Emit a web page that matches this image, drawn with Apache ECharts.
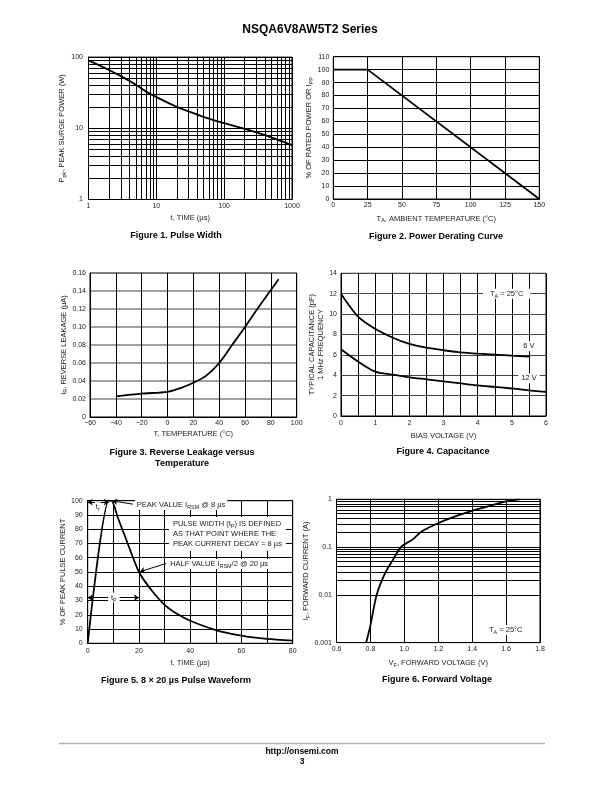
<!DOCTYPE html>
<html>
<head>
<meta charset="utf-8">
<script src="https://cdn.jsdelivr.net/npm/echarts@6/dist/echarts.min.js"></script>
<style>
html,body{margin:0;padding:0;background:#fff;}
#chart{width:612px;height:792px;}
</style>
</head>
<body>
<div id="chart"></div>
<script>
// ---------------- Data ----------------
// Figure 1. Pulse Width (log-log)
const fig1Time  = [1, 2, 3, 5, 7, 10, 20, 40, 70, 100, 200, 400, 700, 1000];
const fig1Power = [90, 66, 54, 41, 33, 27.5, 20, 15.6, 13, 11.8, 9.8, 8.0, 6.6, 5.8];
// Figure 2. Power Derating Curve
const fig2Temp  = [0, 25, 150];
const fig2Rated = [100, 100, 0];
// Figure 3. Reverse Leakage versus Temperature
const fig3Temp = [-40, -20, 0, 10, 20, 30, 40, 50, 60, 70, 80, 86];
const fig3Leak = [0.023, 0.026, 0.028, 0.032, 0.038, 0.046, 0.06, 0.08, 0.10, 0.121, 0.141, 0.153];
// Figure 4. Capacitance
const fig4Bias6V  = [0, 0.5, 1, 1.5, 2, 2.5, 3, 3.5, 4, 4.5, 5, 5.5];
const fig4Cap6V   = [12.0, 9.75, 8.55, 7.7, 7.07, 6.7, 6.45, 6.25, 6.12, 6.02, 5.92, 5.83];
const fig4Bias12V = [0, 0.5, 1, 1.5, 2, 2.5, 3, 3.5, 4, 4.5, 5, 5.5, 6];
const fig4Cap12V  = [6.55, 5.34, 4.35, 4.06, 3.8, 3.6, 3.4, 3.2, 3.0, 2.85, 2.7, 2.52, 2.36];
// Figure 5. 8 x 20 us Pulse Waveform
const fig5Time = [0, 8.2, 9.2, 12, 15, 20, 25, 30, 35, 40, 50, 60, 70, 80];
const fig5Pct  = [0, 100, 100, 87, 73, 50, 37, 27, 20.5, 15.8, 9.3, 5.4, 3.1, 1.9];
// Figure 6. Forward Voltage
const fig6Volt = [0.775, 0.80, 0.837, 0.886, 0.93, 0.98, 1.05, 1.1, 1.2, 1.3, 1.4, 1.5, 1.6, 1.68];
const fig6Curr = [0.001, 0.0023, 0.01, 0.028, 0.052, 0.1, 0.145, 0.21, 0.317, 0.44, 0.574, 0.72, 0.90, 1.0];

// Texts
const pageTitle = 'NSQA6V8AW5T2 Series';
const captionTexts = ['Figure 1. Pulse Width', 'Figure 2. Power Derating Curve',
  'Figure 3. Reverse Leakage versus', 'Temperature', 'Figure 4. Capacitance',
  'Figure 5. 8 \u00d7 20 \u00b5s Pulse Waveform', 'Figure 6. Forward Voltage'];
const footerTexts = ['http://onsemi.com', '3'];

// ---------------- Helpers ----------------
const FONT = '"Liberation Sans", Arial, Helvetica, sans-serif';
const TXT = '#1a1a1a';
const RICH = {
  n: {fontFamily: FONT, fontSize: 7.5, color: TXT, lineHeight: 10},
  m: {fontFamily: FONT, fontSize: 7.5, color: TXT, lineHeight: 9.5},
  s: {fontFamily: FONT, fontSize: 5.4, color: TXT, verticalAlign: 'bottom'}
};
function merge(a, b) {
  const o = Array.isArray(a) ? a.slice() : Object.assign({}, a);
  for (const k in b) {
    if (b[k] && typeof b[k] === 'object' && !Array.isArray(b[k]) && a[k] && typeof a[k] === 'object' && !Array.isArray(a[k])) o[k] = merge(a[k], b[k]);
    else o[k] = b[k];
  }
  return o;
}
const zip = (xs, ys) => xs.map((x, i) => [x, ys[i]]);
const minorLog = (lo, hi) => { const out = []; for (let d = lo; d < hi * 0.999; d *= 10) for (let k = 2; k <= 9; k++) out.push(Number((k * d).toPrecision(2))); return out; };

const axisBase = {
  nameLocation: 'middle',
  nameTextStyle: {fontFamily: FONT, fontSize: 7.5, color: TXT, rich: RICH},
  axisLine: {show: true, onZero: false, lineStyle: {color: '#000', width: 1}},
  axisTick: {show: false},
  axisLabel: {fontFamily: FONT, fontSize: 7, color: TXT},
  splitLine: {show: true, lineStyle: {color: '#000', width: 1}}
};
const X = o => merge(axisBase, o);
const Y = o => merge(axisBase, merge({nameRotate: 90}, o));
const minorBlack = {minorTick: {show: false, splitNumber: 2}, minorSplitLine: {show: true, lineStyle: {color: '#000', width: 1}}};

const gridBase = {show: true, borderColor: '#000', borderWidth: 1, containLabel: false};
const grids = [
  {left: 88.5, top: 57.1, width: 203.5, height: 142.4},
  {left: 333.3, top: 56.7, width: 206, height: 142.3},
  {left: 90, top: 273, width: 206.7, height: 144},
  {left: 341, top: 273.3, width: 205, height: 142.7},
  {left: 87.7, top: 500.7, width: 205, height: 142.6},
  {left: 336.5, top: 499.3, width: 203.5, height: 143.3}
].map(g => Object.assign({}, gridBase, g));

const curve = (idx, data, extra) => merge({
  type: 'line', xAxisIndex: idx, yAxisIndex: idx, data: data, showSymbol: false, symbol: 'none',
  lineStyle: {color: '#000', width: 1.8}, z: 4, silent: true, animation: false
}, extra || {});

const gridLines = (idx, items) => ({
  type: 'line', xAxisIndex: idx, yAxisIndex: idx, data: [], z: 3, silent: true, animation: false,
  markLine: {silent: true, symbol: 'none', animation: false, z: 3, label: {show: false},
    lineStyle: {color: '#000', width: 1, type: 'solid'}, emphasis: {disabled: true}, data: items}
});

function note(coord, text, labelOpts) {
  return {coord: coord, symbol: 'circle', symbolSize: 1, itemStyle: {color: 'rgba(0,0,0,0)'},
    label: merge({show: true, position: 'inside', formatter: text, fontFamily: FONT, fontSize: 7.5,
      color: TXT, backgroundColor: '#fff', padding: [1, 2], rich: RICH}, labelOpts || {})};
}
const notes = (idx, items, lines) => ({
  type: 'line', xAxisIndex: idx, yAxisIndex: idx, data: [], z: 10, silent: true, animation: false,
  markPoint: {silent: true, animation: false, z: 10, data: items},
  markLine: lines ? {silent: true, animation: false, z: 9, symbol: 'none', symbolSize: 5,
    label: {show: false}, lineStyle: {color: '#000', width: 1, type: 'solid'}, emphasis: {disabled: true}, data: lines} : undefined
});
const arrow = (a, b, both) => [{coord: a, symbol: both ? 'arrow' : 'none'}, {coord: b, symbol: 'arrow'}];

// ---------------- Axes ----------------
const logLabel = v => (v >= 1 ? String(v) : String(Number(v.toPrecision(1))));
const xAxes = [
  X({gridIndex: 0, type: 'log', logBase: 10, min: 1, max: 1000, name: 't, TIME (\u00b5s)', nameGap: 14, axisLabel: {margin: 3, formatter: logLabel}}),
  X({gridIndex: 1, type: 'value', min: 0, max: 150, interval: 25, name: '{n|T}{s|A}{n|, AMBIENT TEMPERATURE (\u00b0C)}', nameGap: 14.5, axisLabel: {margin: 3}}),
  X({gridIndex: 2, type: 'value', min: -60, max: 100, interval: 20, name: 'T, TEMPERATURE (\u00b0C)', nameGap: 12.5, axisLabel: {margin: 3, formatter: v => String(v).replace('-', '\u2212')}}),
  X(merge({gridIndex: 3, type: 'value', min: 0, max: 6, interval: 1, name: 'BIAS VOLTAGE (V)', nameGap: 16, axisLabel: {margin: 3.5}}, minorBlack)),
  X(merge({gridIndex: 4, type: 'value', min: 0, max: 80, interval: 20, name: 't, TIME (\u00b5s)', nameGap: 16, axisLabel: {margin: 4}}, minorBlack)),
  X({gridIndex: 5, type: 'value', min: 0.6, max: 1.8, interval: 0.2, name: '{n|V}{s|F}{n|, FORWARD VOLTAGE (V)}', nameGap: 15, axisLabel: {margin: 3, formatter: v => v.toFixed(1)}})
];
const yAxes = [
  Y({gridIndex: 0, type: 'log', logBase: 10, min: 1, max: 100, name: '{n|P}{s|pk}{n|, PEAK SURGE POWER (W)}', nameGap: 18.5, axisLabel: {margin: 5.5, formatter: logLabel}}),
  Y({gridIndex: 1, type: 'value', min: 0, max: 110, interval: 10, name: '{n|% OF RATED POWER OR I}{s|PP}', nameGap: 13, axisLabel: {margin: 4}}),
  Y({gridIndex: 2, type: 'value', min: 0, max: 0.16, interval: 0.02, name: '{n|I}{s|R}{n|, REVERSE LEAKAGE (\u00b5A)}', nameGap: 19.5,
     axisLabel: {margin: 4, formatter: v => (v === 0 ? '0' : v.toFixed(2))}, splitLine: {lineStyle: {color: '#808080', width: 1.5}}}),
  Y({gridIndex: 3, type: 'value', min: 0, max: 14, interval: 2, name: '{m|TYPICAL CAPACITANCE (pF)}\n{m|1 MHz FREQUENCY}', nameGap: 12.5,
     axisLabel: {margin: 4}, splitLine: {lineStyle: {color: '#444', width: 1.2}}}),
  Y({gridIndex: 4, type: 'value', min: 0, max: 100, interval: 10, name: '% OF PEAK PULSE CURRENT', nameGap: 19.5, axisLabel: {margin: 5}}),
  Y({gridIndex: 5, type: 'log', logBase: 10, min: 0.001, max: 1, name: '{n|I}{s|F}{n|, FORWARD CURRENT (A)}', nameGap: 20, axisLabel: {margin: 4.5, formatter: logLabel}})
];

// ---------------- Series ----------------
const series = [
  gridLines(0, minorLog(1, 1000).map(v => ({xAxis: v})).concat(minorLog(1, 100).map(v => ({yAxis: v})))),
  curve(0, zip(fig1Time, fig1Power), {smooth: 0.3}),
  curve(1, zip(fig2Temp, fig2Rated)),
  curve(2, zip(fig3Temp, fig3Leak), {smooth: 0.3}),
  curve(3, zip(fig4Bias6V, fig4Cap6V), {smooth: 0.3}),
  curve(3, zip(fig4Bias12V, fig4Cap12V), {smooth: 0.3}),
  notes(3, [
    note([4.85, 12], '{n|T}{s|A}{n| = 25\u00b0C}', {padding: [0, 7]}),
    note([5.5, 6.85], '6 V', {padding: [1, 3]}),
    note([5.5, 3.7], '12 V', {padding: [1, 3]})
  ]),
  curve(4, zip(fig5Time, fig5Pct), {smooth: 0.25}),
  notes(4, [
    note([3.9, 95.5], '{n|t}{s|r}', {padding: [0, 1]}),
    note([18.2, 97], '{n|PEAK VALUE I}{s|RSM}{n| @ 8 \u00b5s}', {position: 'right', distance: 0, padding: [0, 2]}),
    note([31.5, 76.6], '{n|PULSE WIDTH (t}{s|P}{n|) IS DEFINED}\n{n|AS THAT POINT WHERE THE}\n{n|PEAK CURRENT DECAY = 8 \u00b5s}', {position: 'right', distance: 0, padding: [2, 4]}),
    note([31.2, 55.6], '{n|HALF VALUE I}{s|RSM}{n|/2 @ 20 \u00b5s}', {position: 'right', distance: 0, padding: [0, 2]}),
    note([10.2, 32], '{n|t}{s|P}', {padding: [0, 3]})
  ], [
    arrow([0, 99], [8.2, 99], true),
    arrow([17.6, 97.6], [9.6, 99.8], false),
    arrow([30.6, 56], [20.4, 50.2], false),
    arrow([0, 32], [20, 32], true)
  ]),
  gridLines(5, minorLog(0.001, 1).map(v => ({yAxis: v}))),
  curve(5, zip(fig6Volt, fig6Curr), {smooth: 0.3}),
  notes(5, [note([1.598, 0.00184], '{n|T}{s|A}{n| = 25\u00b0C}', {padding: [0, 7]})])
];

// ---------------- Page texts ----------------
function txt(x, y, text, size, bold) {
  return {type: 'text', x: x, y: y, silent: true, style: {text: text, fontFamily: FONT, fontSize: size, fontWeight: bold ? 'bold' : 'normal',
    fill: '#000', align: 'center', verticalAlign: 'middle', textAlign: 'center', textVerticalAlign: 'middle'}};
}
const graphic = [
  txt(310, 29.5, pageTitle, 12, true),
  txt(176, 236, captionTexts[0], 9, true),
  txt(436, 236.3, captionTexts[1], 9, true),
  txt(182, 452.7, captionTexts[2], 9, true),
  txt(182, 463.7, captionTexts[3], 9, true),
  txt(443, 452, captionTexts[4], 9, true),
  txt(176, 680.5, captionTexts[5], 9, true),
  txt(437, 680, captionTexts[6], 9, true),
  {type: 'line', silent: true, shape: {x1: 59, y1: 743.5, x2: 545, y2: 743.5}, style: {stroke: '#b4b4b4', lineWidth: 1.5}},
  txt(302, 752, footerTexts[0], 8.5, true),
  txt(302, 762, footerTexts[1], 8.5, true)
];

const chart = echarts.init(document.getElementById('chart'), null, {renderer: 'canvas', width: 612, height: 792});
chart.setOption({
  animation: false,
  backgroundColor: '#fff',
  grid: grids,
  xAxis: xAxes,
  yAxis: yAxes,
  series: series,
  graphic: graphic
});
</script>
</body>
</html>
